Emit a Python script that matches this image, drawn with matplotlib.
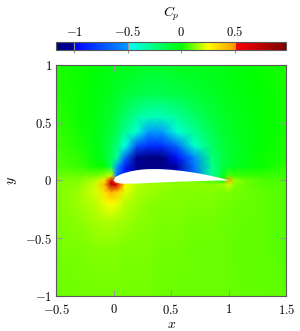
import numpy as np
import matplotlib
matplotlib.use("Agg")
import matplotlib.pyplot as plt
from matplotlib.colors import LinearSegmentedColormap, Normalize
from matplotlib.ticker import FuncFormatter

plt.rcParams['mathtext.fontset'] = 'cm'
plt.rcParams['font.family'] = 'DejaVu Serif'

# Cp on a coarse grid (rows follow y_nodes, columns x_nodes)
x_nodes = [-0.5, -0.3, -0.15, -0.08, -0.02, 0.03, 0.1, 0.2, 0.3, 0.42, 0.55, 0.7, 0.85, 0.95, 1.0, 1.05, 1.15, 1.3, 1.5]
y_nodes = [-1.0, -0.6, -0.35, -0.2, -0.1, -0.035, 0.0, 0.04, 0.12, 0.2, 0.3, 0.42, 0.55, 0.75, 1.0]
cp_rows = [
    [0.10, 0.11, 0.11, 0.11, 0.11, 0.11, 0.11, 0.11, 0.11, 0.10, 0.10, 0.10, 0.10, 0.10, 0.10, 0.10, 0.09, 0.09, 0.09],
    [0.11, 0.12, 0.13, 0.13, 0.13, 0.13, 0.12, 0.12, 0.12, 0.11, 0.11, 0.10, 0.10, 0.10, 0.10, 0.09, 0.09, 0.09, 0.08],
    [0.12, 0.14, 0.16, 0.17, 0.17, 0.16, 0.15, 0.14, 0.13, 0.12, 0.12, 0.11, 0.11, 0.10, 0.10, 0.10, 0.09, 0.09, 0.08],
    [0.12, 0.15, 0.19, 0.23, 0.25, 0.23, 0.18, 0.15, 0.14, 0.13, 0.13, 0.12, 0.12, 0.11, 0.11, 0.10, 0.10, 0.09, 0.08],
    [0.12, 0.15, 0.21, 0.32, 0.45, 0.38, 0.22, 0.17, 0.15, 0.14, 0.13, 0.13, 0.13, 0.12, 0.12, 0.11, 0.10, 0.09, 0.08],
    [0.12, 0.14, 0.20, 0.42, 0.80, 0.58, 0.25, 0.18, 0.16, 0.15, 0.14, 0.14, 0.14, 0.15, 0.20, 0.13, 0.10, 0.08, 0.08],
    [0.12, 0.13, 0.18, 0.30, 0.60, 0.50, 0.20, 0.15, 0.13, 0.12, 0.12, 0.12, 0.05, 0.00, 0.50, 0.15, 0.10, 0.08, 0.07],
    [0.10, 0.10, 0.12, 0.15, 0.20, -0.65, -0.95, -1.00, -1.00, -1.00, -0.92, -0.65, -0.30, -0.08, 0.08, 0.06, 0.05, 0.05, 0.06],
    [0.08, 0.05, 0.01, 0.00, -0.20, -0.50, -0.90, -1.08, -1.13, -1.12, -1.00, -0.62, -0.28, -0.13, -0.10, -0.06, -0.03, 0.01, 0.04],
    [0.07, 0.04, -0.02, -0.08, -0.17, -0.32, -0.65, -1.05, -1.15, -1.15, -0.95, -0.55, -0.25, -0.13, -0.10, -0.07, -0.04, 0.01, 0.03],
    [0.06, 0.03, -0.03, -0.08, -0.14, -0.24, -0.45, -0.72, -0.85, -0.85, -0.66, -0.40, -0.20, -0.12, -0.09, -0.07, -0.04, 0.00, 0.03],
    [0.05, 0.02, -0.03, -0.07, -0.11, -0.17, -0.28, -0.42, -0.50, -0.50, -0.42, -0.28, -0.16, -0.10, -0.08, -0.06, -0.04, 0.00, 0.02],
    [0.04, 0.01, -0.03, -0.06, -0.09, -0.13, -0.20, -0.30, -0.36, -0.36, -0.30, -0.20, -0.12, -0.08, -0.06, -0.05, -0.03, 0.00, 0.02],
    [0.03, 0.01, -0.02, -0.04, -0.06, -0.08, -0.10, -0.13, -0.15, -0.15, -0.13, -0.10, -0.07, -0.05, -0.04, -0.03, -0.02, 0.00, 0.02],
    [0.03, 0.01, -0.01, -0.02, -0.03, -0.04, -0.05, -0.06, -0.07, -0.07, -0.06, -0.05, -0.04, -0.03, -0.02, -0.02, -0.01, 0.01, 0.03],
]

# NACA 4412 ordinates (fraction of chord)
foil_x = [0, 0.0125, 0.025, 0.05, 0.075, 0.1, 0.15, 0.2, 0.25, 0.3, 0.4, 0.5, 0.6, 0.7, 0.8, 0.9, 0.95, 1.0]
foil_yu = [0, 0.0244, 0.0339, 0.0473, 0.0576, 0.0659, 0.0789, 0.0880, 0.0941, 0.0976, 0.0980, 0.0919, 0.0814, 0.0669, 0.0489, 0.0271, 0.0147, 0.0013]
foil_yl = [0, -0.0143, -0.0195, -0.0249, -0.0274, -0.0286, -0.0288, -0.0274, -0.0250, -0.0226, -0.0180, -0.0140, -0.0100, -0.0065, -0.0039, -0.0022, -0.0016, -0.0013]

cp_min, cp_max = -1.17, 0.98
cmap_stops = [
    (-1.17, (0.0, 0.0, 0.5)),
    (-1.0, (0.0, 0.0, 0.62)),
    (-1.0, (0.0, 0.0, 1.0)),
    (-0.5, (0.0, 0.6, 1.0)),
    (-0.5, (0.0, 1.0, 1.0)),
    (0.0, (0.0, 1.0, 0.0)),
    (0.25, (1.0, 1.0, 0.0)),
    (0.5, (1.0, 0.6, 0.0)),
    (0.5, (1.0, 0.0, 0.0)),
    (0.98, (0.5, 0.0, 0.0)),
]
cmap = LinearSegmentedColormap.from_list(
    'cp', [((v - cp_min) / (cp_max - cp_min), c) for v, c in cmap_stops])
norm = Normalize(cp_min, cp_max)

fig = plt.figure(figsize=(3.0, 3.31), dpi=100)
ax = fig.add_axes([0.187, 0.106, 0.767, 0.698])
cax = fig.add_axes([0.187, 0.849, 0.767, 0.024])

X, Y = np.meshgrid(x_nodes, y_nodes)
mesh = ax.pcolormesh(X, Y, np.array(cp_rows), cmap=cmap, norm=norm, shading='gouraud')

outline_x = foil_x[::-1] + foil_x[1:]
outline_y = foil_yu[::-1] + foil_yl[1:]
ax.fill(outline_x, outline_y, color='white', lw=0, zorder=3)

ax.set_xlim(-0.5, 1.5)
ax.set_ylim(-1, 1)
ax.set_xticks([-0.5, 0, 0.5, 1, 1.5])
ax.set_yticks([-1, -0.5, 0, 0.5, 1])
fmt = FuncFormatter(lambda v, p: '$%g$' % v)
ax.xaxis.set_major_formatter(fmt)
ax.yaxis.set_major_formatter(fmt)
ax.tick_params(direction='in', length=4, color='0.6', top=True, right=True,
               labelsize=9)
ax.tick_params(axis='x', pad=5)
ax.tick_params(axis='y', pad=3)
for s in ax.spines.values():
    s.set_color('0.35')
    s.set_linewidth(0.8)
ax.set_xlabel('$x$', fontsize=10, labelpad=0)
ax.set_ylabel('$y$', fontsize=10, labelpad=4)

cb = fig.colorbar(mesh, cax=cax, orientation='horizontal')
cb.set_ticks([-1, -0.5, 0, 0.5])
cb.ax.xaxis.set_major_formatter(fmt)
cb.ax.tick_params(axis='x', direction='in', length=8, color='0.6', top=True,
                  bottom=False, labeltop=True, labelbottom=False, labelsize=9, pad=2)
cb.ax.xaxis.set_label_position('top')
cb.set_label('$C_p$', fontsize=10, labelpad=6)
cb.outline.set_edgecolor('0.35')
cb.outline.set_linewidth(0.8)

fig.savefig('out.png', dpi=100)
